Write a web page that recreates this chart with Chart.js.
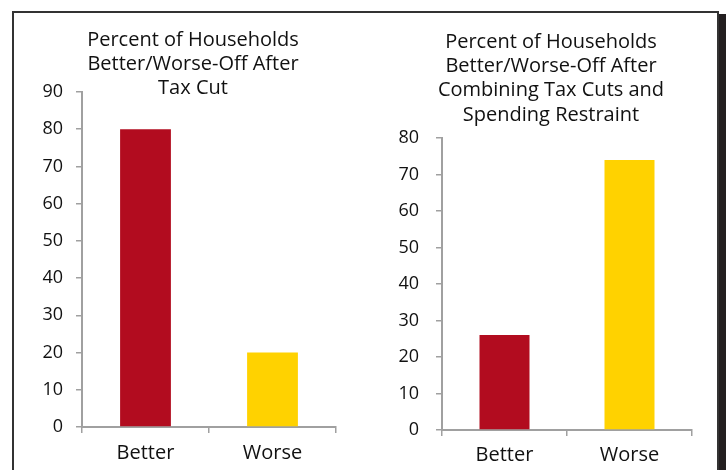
<!DOCTYPE html>
<html>
<head>
<meta charset="utf-8">
<script src="https://cdn.jsdelivr.net/npm/chart.js@4/dist/chart.umd.min.js"></script>
<style>
  html, body { margin:0; padding:0; background:#fff; }
  body { width:726px; height:470px; position:relative; overflow:hidden; font-family:"Open Sans", sans-serif; }
  .box { position:absolute; left:12px; top:11px; width:703px; height:480px; border:2px solid #333; box-shadow:8px 3px 0 #231f20; background:#fff; }
  #c1 { position:absolute; left:20px; top:0; }
  #c2 { position:absolute; left:390px; top:0; }
</style>
</head>
<body>
<div class="box"></div>
<canvas id="c1" width="346" height="470"></canvas>
<canvas id="c2" width="322" height="470"></canvas>
<script>
const categories = ['Better', 'Worse'];
const taxCutValues = [80, 20];
const combinedValues = [26, 74];
const barColors = ['#B20C1F', '#FFD200'];
const title1 = ['Percent of Households', 'Better/Worse-Off After', 'Tax Cut'];
const title2 = ['Percent of Households', 'Better/Worse-Off After', 'Combining Tax Cuts and', 'Spending Restraint'];
const yMax1 = 90;
const yMax2 = 80;
const yStep = 10;

const axisColor = '#A0A0A0';
const fontFam = '"Open Sans", sans-serif';

const titleShift = {
  id: 'titleShift',
  afterLayout(chart, args, o) {
    const t = chart.titleBlock;
    if (t && o.dx) { t.left += o.dx; t.right += o.dx; }
  }
};

function makeChart(id, values, titleLines, yMax, opts) {
  return new Chart(document.getElementById(id), {
    type: 'bar',
    data: {
      labels: categories,
      datasets: [{ data: values, backgroundColor: barColors, borderWidth: 0, barPercentage: 0.4, categoryPercentage: 1 }]
    },
    plugins: [titleShift],
    options: {
      responsive: false,
      animation: false,
      devicePixelRatio: 1,
      layout: { padding: { left: 0, right: opts.padRight, top: 0, bottom: 0 } },
      plugins: {
        legend: { display: false },
        tooltip: { enabled: false },
        titleShift: { dx: opts.titleDx },
        title: {
          display: true,
          text: titleLines,
          color: '#111',
          font: { family: fontFam, size: 20, weight: 'normal', lineHeight: opts.titleLH },
          padding: { top: opts.titleTop, bottom: opts.titleBottom }
        }
      },
      scales: {
        x: {
          grid: { display: true, drawOnChartArea: false, drawTicks: true, tickLength: 6, color: axisColor, lineWidth: 1.5, offset: true },
          border: { display: true, color: axisColor, width: 2 },
          ticks: { color: '#111', font: { family: fontFam, size: 20 }, padding: opts.xPad },
          afterFit: s => { s.height = opts.xHeight; }
        },
        y: {
          min: 0, max: yMax,
          grid: { display: true, drawOnChartArea: false, drawTicks: true, tickLength: 6, color: axisColor, lineWidth: 1.5 },
          border: { display: true, color: axisColor, width: 2 },
          ticks: { stepSize: yStep, color: '#111', font: { family: fontFam, size: 18 }, padding: opts.yPad },
          afterFit: s => { s.width = opts.yWidth; }
        }
      }
    }
  });
}

makeChart('c1', taxCutValues, title1, yMax1, {
  padRight: 30, titleDx: 15, titleLH: 24 / 20, titleTop: 28, titleBottom: -8, xHeight: 43, xPad: 8, yPad: 13, yWidth: 62
});
makeChart('c2', combinedValues, title2, yMax2, {
  padRight: 20, titleDx: 10, titleLH: 24.33 / 20, titleTop: 29.8, titleBottom: 10.9, xHeight: 40, xPad: 7, yPad: 17, yWidth: 52
});
</script>
</body>
</html>
